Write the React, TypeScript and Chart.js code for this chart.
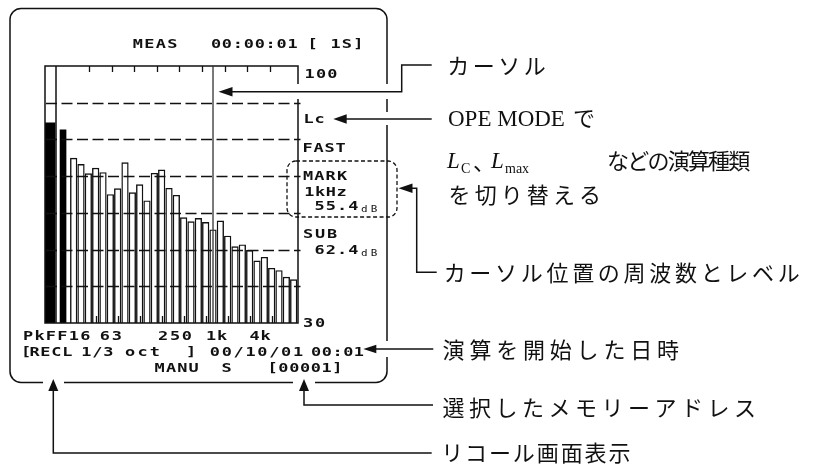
import React, { useEffect, useRef } from "react";
import { Chart, registerables } from "chart.js";

Chart.register(...registerables);

// ---- data ----
const bandLabels = [
  "12.5", "16", "20", "25", "31.5", "40", "50", "63", "80", "100", "125",
  "160", "200", "250", "315", "400", "500", "630", "800", "1k", "1.25k",
  "1.6k", "2k", "2.5k", "3.15k", "4k", "5k", "6.3k", "8k", "10k", "12.5k",
];
const bandLevels = [
  74.9, 73.2, 70.7, 72.2, 71.0, 65.0, 66.6, 73.7, 65.5, 67.7, 63.3,
  70.8, 71.7, 66.7, 64.8, 58.7, 57.6, 58.5, 57.4, 55.4, 57.8,
  53.7, 50.8, 51.3, 49.8, 46.9, 47.9, 44.9, 44.3, 42.5, 41.8,
];
const overallLabels = ["Pk", "FF"];
const overallLevels = [84.5, 82.6];
const yMin = 30;
const yMax = 100;
const yTickLabels = ["100", "30"];
const gridLevels = [90, 80, 70, 60, 50, 40];
const xTickLabels = ["PkFF16", "63", "250", "1k", "4k"];
const octaveTickIdx = [3, 6, 9, 12, 15, 18, 21, 24, 27];
const topTickIdx = [2.1, 5.2, 8.2, 11.3, 14.4, 17.5, 20.6, 23.7, 26.8];
const cursorLabel = "1k";
const headerTexts = ["MEAS", "00:00:01", "[ 1S]"];
const modeTexts = ["Lc", "FAST"];
const markTexts = ["MARK", "1kHz", "55.4"];
const subTexts = ["SUB", "62.4"];
const unitText = "dB";
const statusTexts = ["[", "RECL", "1/3", "oct", "]", "00/10/01", "00:01"];
const footerTexts = ["MANU", "S", "[00001]"];

const notes = {
  cursor: "カーソル",
  ope: "OPE MODE",
  de: "で",
  kinds: "などの演算種類",
  switchText: "を切り替える",
  cursorPos: "カーソル位置の周波数とレベル",
  start: "演算を開始した日時",
  memory: "選択したメモリーアドレス",
  recall: "リコール画面表示",
};

// layout constants (scale units for the x-axis = band index)
const X_MIN = -3.91;
const X_MAX = 30.59;
const PK_X = -3.27;
const FF_X = -1.45;

const LCD_FONT = "bold 13px 'DejaVu Sans Mono'";
const JP_FONT = "22px 'Noto Sans CJK JP'";

function cells(ctx: CanvasRenderingContext2D, text: string, x0: number, x1: number, cy: number, font = LCD_FONT, sx = 1.3) {
  ctx.font = font;
  ctx.textAlign = "center";
  ctx.textBaseline = "alphabetic";
  const n = text.length;
  const p = (x1 - x0) / n;
  for (let i = 0; i < n; i++) {
    const ch = text[i];
    if (ch === " ") continue;
    ctx.save();
    ctx.translate(x0 + p * (i + 0.5), cy + 4.8);
    ctx.scale(sx, 1);
    ctx.fillText(ch, 0, 0);
    ctx.restore();
  }
}

function jp(ctx: CanvasRenderingContext2D, text: string, x0: number, pitch: number, cy: number) {
  ctx.font = JP_FONT;
  ctx.textAlign = "center";
  ctx.textBaseline = "middle";
  const chars = Array.from(text);
  chars.forEach((ch, i) => ctx.fillText(ch, x0 + pitch * (i + 0.5), cy));
}

function line(ctx: CanvasRenderingContext2D, pts: number[][]) {
  ctx.beginPath();
  ctx.moveTo(pts[0][0], pts[0][1]);
  for (let i = 1; i < pts.length; i++) ctx.lineTo(pts[i][0], pts[i][1]);
  ctx.stroke();
}

function head(ctx: CanvasRenderingContext2D, tx: number, ty: number, dir: "left" | "up", len = 13, half = 4.6) {
  ctx.beginPath();
  ctx.moveTo(tx, ty);
  if (dir === "left") {
    ctx.lineTo(tx + len, ty - half);
    ctx.lineTo(tx + len, ty + half);
  } else {
    ctx.lineTo(tx - half, ty + len);
    ctx.lineTo(tx + half, ty + len);
  }
  ctx.closePath();
  ctx.fill();
}

function roundRect(ctx: CanvasRenderingContext2D, x: number, y: number, w: number, h: number, r: number) {
  ctx.beginPath();
  ctx.moveTo(x + r, y);
  ctx.arcTo(x + w, y, x + w, y + h, r);
  ctx.arcTo(x + w, y + h, x, y + h, r);
  ctx.arcTo(x, y + h, x, y, r);
  ctx.arcTo(x, y, x + w, y, r);
  ctx.closePath();
}

const decor = {
  id: "lcdDecor",
  beforeDraw(chart: any) {
    const ctx = chart.ctx;
    ctx.save();
    ctx.fillStyle = "#fff";
    ctx.fillRect(0, 0, chart.width, chart.height);
    ctx.restore();
  },
  afterDatasetsDraw(chart: any) {
    const ctx: CanvasRenderingContext2D = chart.ctx;
    const xs = chart.scales.x;
    const ys = chart.scales.y;
    const { left: L, right: R, top: T, bottom: B } = chart.chartArea;
    ctx.save();
    ctx.strokeStyle = "#111";
    ctx.fillStyle = "#111";

    // dashed grid
    ctx.lineWidth = 1.4;
    ctx.setLineDash([11, 4.5]);
    gridLevels.forEach((v) => {
      const y = Math.round(ys.getPixelForValue(v)) + 0.5;
      line(ctx, [[L + 1, y], [R + 2.5, y]]);
    });
    ctx.setLineDash([]);

    // ticks
    ctx.lineWidth = 1.3;
    topTickIdx.forEach((i) => {
      const x = Math.round(xs.getPixelForValue(i)) + 0.5;
      line(ctx, [[x, T], [x, T + 6]]);
    });
    octaveTickIdx.forEach((i) => {
      const x = Math.round(xs.getPixelForValue(i)) + 0.5;
      line(ctx, [[x, B - 7], [x, B]]);
    });

    // plot frame + Pk column
    ctx.lineWidth = 1.5;
    ctx.strokeRect(L, T, R - L, B - T);
    line(ctx, [[L + 11, T], [L + 11, B]]);

    // cursor
    const cx = xs.getPixelForValue(bandLabels.indexOf(cursorLabel));
    ctx.strokeStyle = "#333";
    ctx.lineWidth = 1.3;
    line(ctx, [[cx, T], [cx, B]]);
    ctx.strokeStyle = "#111";

    // LCD texts
    cells(ctx, headerTexts[0], 132, 178, 43.3);
    cells(ctx, headerTexts[1], 210.5, 298, 43.3);
    cells(ctx, headerTexts[2], 307, 364, 43.3);
    cells(ctx, yTickLabels[0], 304, 338, 73.3);
    cells(ctx, modeTexts[0], 303, 325, 118.3);
    cells(ctx, modeTexts[1], 302, 346, 146.7);
    cells(ctx, markTexts[0], 302.3, 347.7, 175);
    cells(ctx, markTexts[1], 304, 347, 190.7);
    cells(ctx, markTexts[2], 314, 359, 205);
    cells(ctx, unitText, 359.5, 379, 207.2, "9.5px 'DejaVu Sans Mono'", 1.15);
    cells(ctx, subTexts[0], 302, 338, 233);
    cells(ctx, subTexts[1], 314, 359, 249);
    cells(ctx, unitText, 359.5, 379, 251.2, "9.5px 'DejaVu Sans Mono'", 1.15);
    cells(ctx, yTickLabels[1], 302, 326, 321.7);

    const xl: number[][] = [[22.3, 91], [99, 122.7], [157.3, 192.7], [205.7, 227.7], [249, 271]];
    xTickLabels.forEach((t, i) => cells(ctx, t, xl[i][0], xl[i][1], 335));
    const sl: number[][] = [[21, 31], [29, 72.7], [80.7, 114], [124, 161], [185, 197], [209, 304], [310.7, 364.3]];
    statusTexts.forEach((t, i) => cells(ctx, t, sl[i][0], sl[i][1], 350.7));
    const fl: number[][] = [[154, 199.3], [220.7, 232.7], [267.3, 342.7]];
    footerTexts.forEach((t, i) => cells(ctx, t, fl[i][0], fl[i][1], 367.3));

    // outer LCD frame
    ctx.lineWidth = 1.5;
    ctx.strokeStyle = "#111";
    roundRect(ctx, 10, 8.5, 377, 374, 11);
    ctx.stroke();

    // dashed box around MARK
    ctx.lineWidth = 1.3;
    ctx.setLineDash([4, 2.5]);
    roundRect(ctx, 287, 161, 110, 56, 9);
    ctx.stroke();
    ctx.setLineDash([]);

    // gaps where leader lines cross
    ctx.fillStyle = "#fff";
    ctx.fillRect(R - 2, 84, 4, 15);
    ctx.fillRect(385, 84, 4, 15);
    ctx.fillRect(385, 112, 4, 13);
    ctx.fillRect(385, 341, 4, 16);
    ctx.fillRect(43, 380, 21, 4);
    ctx.fillRect(293, 380, 22, 4);
    ctx.fillStyle = "#111";

    // leader lines
    ctx.lineWidth = 1.5;
    ctx.strokeStyle = "#111";
    const ay = 91.7;
    line(ctx, [[cx + 15, ay], [401.7, ay], [401.7, 65], [431.7, 65]]);
    head(ctx, cx + 5.5, ay, "left", 14, 4.7);
    line(ctx, [[340, 119], [431.7, 119]]);
    head(ctx, 333.3, 119, "left", 13.4, 4.7);
    line(ctx, [[410, 188.3], [416.7, 188.3], [416.7, 272.3], [436.7, 272.3]]);
    head(ctx, 398.5, 188.3, "left", 14, 4.7);
    line(ctx, [[372, 349], [433.3, 349]]);
    head(ctx, 363.3, 349, "left", 13, 4.2);
    line(ctx, [[304, 390], [304, 405], [433, 405]]);
    head(ctx, 304, 379, "up", 12, 5);
    line(ctx, [[53.3, 390], [53.3, 453], [431.7, 453]]);
    head(ctx, 53.3, 379, "up", 12, 5);

    // annotations
    ctx.fillStyle = "#111";
    jp(ctx, notes.cursor, 445.5, 25.5, 65.5);
    ctx.font = "23px 'Liberation Serif'";
    ctx.textAlign = "left";
    ctx.textBaseline = "alphabetic";
    ctx.fillText(notes.ope, 448, 126);
    jp(ctx, notes.de, 571, 26, 118);
    ctx.textAlign = "left";
    ctx.textBaseline = "alphabetic";
    ctx.font = "italic 23px 'Liberation Serif'";
    ctx.fillText("L", 447, 167.5);
    ctx.fillText("L", 491, 167.5);
    ctx.font = "14px 'Liberation Serif'";
    ctx.fillText("C", 461, 172.5);
    ctx.fillText("max", 505, 172.5);
    ctx.font = JP_FONT;
    ctx.textBaseline = "middle";
    ctx.fillText("、", 473, 162);
    jp(ctx, notes.kinds, 608, 20.2, 161);
    jp(ctx, notes.switchText, 446.5, 26.1, 195);
    jp(ctx, notes.cursorPos, 441.8, 25.7, 272.5);
    jp(ctx, notes.start, 440.2, 26.8, 350);
    jp(ctx, notes.memory, 440.2, 26.5, 408);
    jp(ctx, notes.recall, 440.2, 23.9, 453);

    ctx.restore();
  },
};

export default function App() {
  const ref = useRef<HTMLCanvasElement>(null);
  useEffect(() => {
    const canvas = ref.current;
    if (!canvas) return;
    const chart = new Chart(canvas, {
      type: "bar",
      data: {
        datasets: [
          {
            label: "1/3 oct",
            data: bandLevels.map((v, i) => ({ x: i, y: v })),
            backgroundColor: "#fff",
            borderColor: "#111",
            borderWidth: 1.4,
            borderSkipped: "start",
            barThickness: 6.6,
            grouped: false,
          } as any,
          {
            label: overallLabels[0],
            data: [{ x: PK_X, y: overallLevels[0] }],
            backgroundColor: "#000",
            borderWidth: 0,
            barThickness: 10.7,
            grouped: false,
          } as any,
          {
            label: overallLabels[1],
            data: [{ x: FF_X, y: overallLevels[1] }],
            backgroundColor: "#000",
            borderWidth: 0,
            barThickness: 6,
            grouped: false,
          } as any,
        ],
      },
      options: {
        responsive: false,
        animation: false,
        devicePixelRatio: 1,
        layout: { padding: { left: 45, right: 524, top: 66, bottom: 146 } },
        scales: {
          x: { type: "linear", min: X_MIN, max: X_MAX, display: false, offset: false },
          y: { type: "linear", min: yMin, max: yMax, display: false },
        },
        plugins: { legend: { display: false }, tooltip: { enabled: false } },
      },
      plugins: [decor],
    });
    return () => chart.destroy();
  }, []);
  return (
    <div style={{ position: "fixed", left: 0, top: 0, width: 822, height: 469, background: "#fff" }}>
      <canvas ref={ref} width={822} height={469} style={{ display: "block" }} />
    </div>
  );
}
